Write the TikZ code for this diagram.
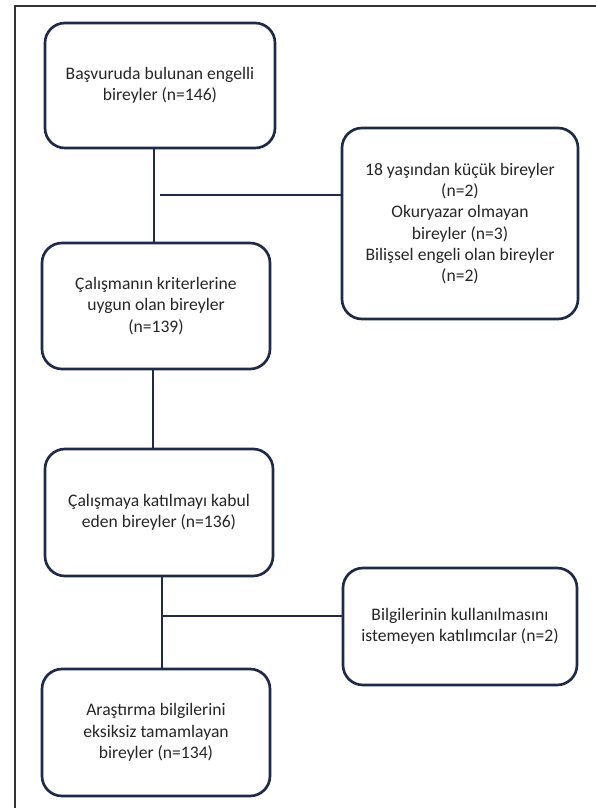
\documentclass[tikz,border=0pt]{standalone}
\usepackage{fontspec}
\setmainfont{Carlito}
\usepackage{xcolor}
\usepackage{tikz}
\definecolor{navy}{RGB}{30,42,72}
\definecolor{ink}{RGB}{38,38,38}

\begin{document}
\begin{tikzpicture}[x=0.75pt,y=-0.75pt,
    font=\fontsize{13.2}{16}\selectfont,
    stage/.style={draw=navy,line width=2pt,rounded corners=15pt,
      align=center,text=ink,inner sep=4pt},
    link/.style={draw=navy,line width=1.8pt}]
  \useasboundingbox (0,0) rectangle (596,808);
  % page frame (only top and left edge visible)
  \draw[line width=0.8pt,black!80] (596,6) -- (15,6) -- (15,808);

  % main column
  \node[stage,minimum width=172.5pt,minimum height=93.75pt] (apply) at (160,85.5)
    {Başvuruda bulunan engelli\\bireyler (n=146)};
  \node[stage,minimum width=171pt,minimum height=94.5pt] (eligible) at (156,306)
    {Çalışmanın kriterlerine\\uygun olan bireyler\\(n=139)};
  \node[stage,minimum width=171pt,minimum height=95.25pt] (consent) at (159,512.5)
    {Çalışmaya katılmayı kabul\\eden bireyler (n=136)};
  \node[stage,minimum width=171pt,minimum height=95.25pt] (complete) at (156,732.5)
    {Araştırma bilgilerini\\eksiksiz tamamlayan\\bireyler (n=134)};

  % exclusions
  \node[stage,minimum width=177pt,minimum height=143.25pt] (excl1) at (460,223.5)
    {18 yaşından küçük bireyler\\(n=2)\\Okuryazar olmayan\\bireyler (n=3)\\Bilişsel engeli olan bireyler\\(n=2)};
  \node[stage,minimum width=175.5pt,minimum height=87.75pt] (excl2) at (460,626.5)
    {Bilgilerinin kullanılmasını\\istemeyen katılımcılar (n=2)};

  % connectors
  \coordinate (j1) at (154,195);
  \coordinate (j2) at (162,616);
  \draw[link] (apply.south -| j1) -- (eligible.north -| j1);
  \draw[link] ([xshift=4.5pt]j1) -- (j1 -| excl1.west);
  \draw[link] ([xshift=-2.25pt]eligible.south) -- ([xshift=-4.5pt]consent.north);
  \draw[link] (consent.south -| j2) -- (complete.north -| j2);
  \draw[link] (j2) -- (j2 -| excl2.west);
\end{tikzpicture}
\end{document}
